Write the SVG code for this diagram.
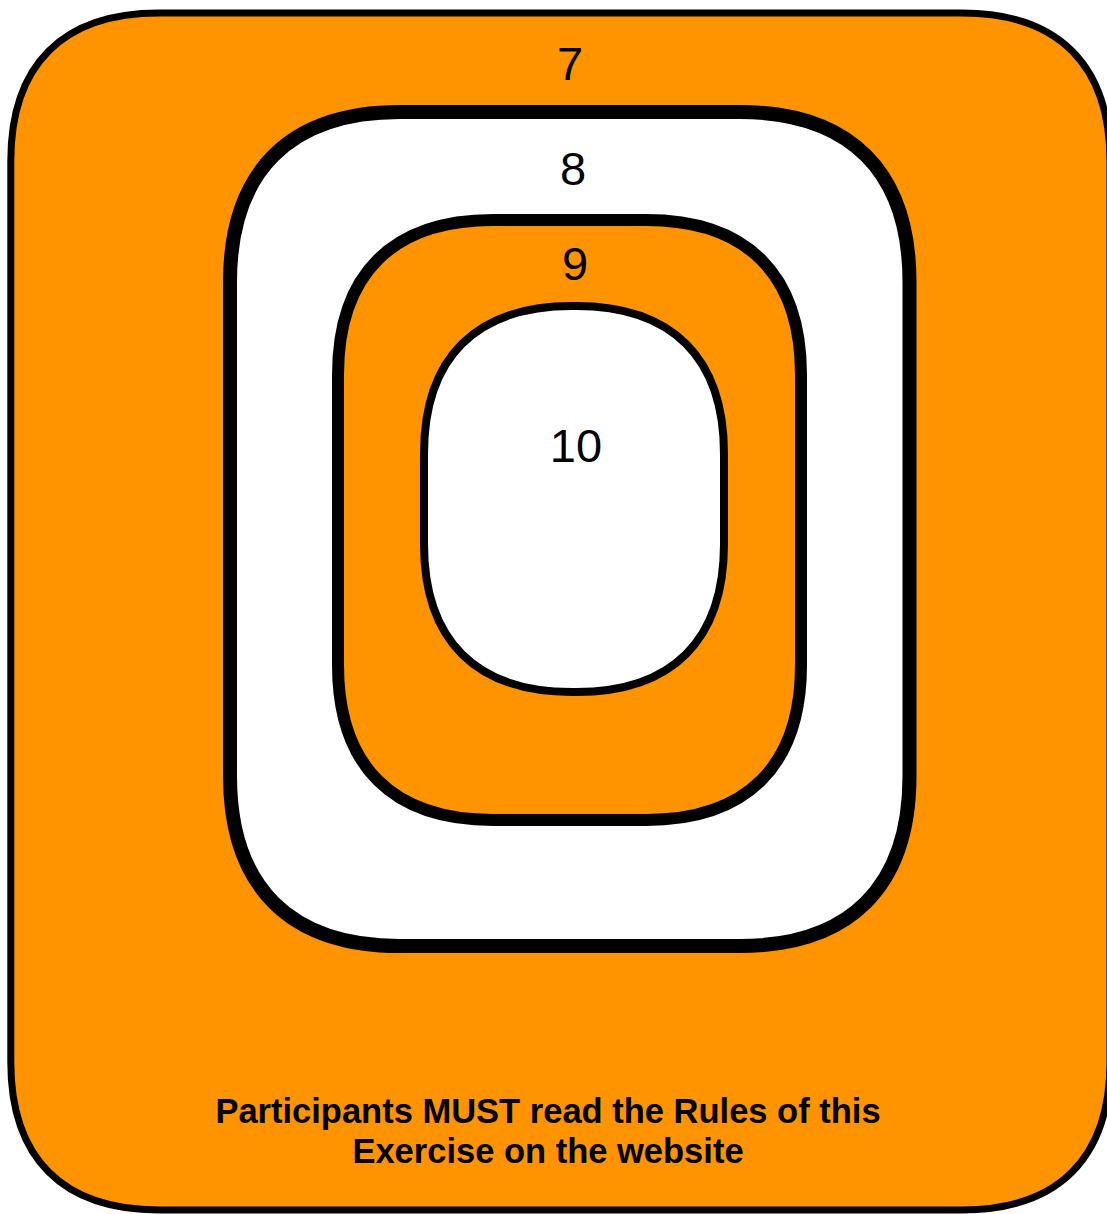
<svg xmlns="http://www.w3.org/2000/svg" width="1107" height="1214" viewBox="0 0 1107 1214">
<style>
.ring{stroke:#000;stroke-linejoin:round}
.org{fill:#FF9300}
.wht{fill:#FFFFFF}
.num{font-family:"Liberation Sans",Arial,sans-serif;font-size:47px;fill:#000;text-anchor:middle}
.note{font-family:"Liberation Sans",Arial,sans-serif;font-size:34.5px;font-weight:bold;fill:#000;text-anchor:middle}
</style>
<rect width="1107" height="1214" fill="#FFFFFF"/>
<g id="ring7">
<path class="ring org" stroke-width="7" d="M158.8,13 H962 C1058.2,13 1110,64.8 1110,161 V1062 C1110,1158.2 1058.2,1210 962,1210 H158.8 C62.6,1210 10.8,1158.2 10.8,1062 V161 C10.8,64.8 62.6,13 158.8,13 Z"/>
<text class="num" x="570" y="80">7</text>
<text class="note" x="548" y="1123">Participants MUST read the Rules of this</text>
<text class="note" x="548" y="1163">Exercise on the website</text>
</g>
<g id="ring8">
<path class="ring wht" stroke-width="14" d="M400,112 H739.5 C850,112 909.5,171.5 909.5,282 V776 C909.5,886.5 850,946 739.5,946 H400 C289.5,946 230,886.5 230,776 V282 C230,171.5 289.5,112 400,112 Z"/>
<text class="num" x="573" y="185">8</text>
</g>
<g id="ring9">
<path class="ring org" stroke-width="12" d="M493,220 H646 C746.75,220 801,274.25 801,375 V665 C801,765.75 746.75,820 646,820 H493 C392.25,820 338,765.75 338,665 V375 C338,274.25 392.25,220 493,220 Z"/>
<text class="num" x="575" y="280">9</text>
</g>
<g id="ring10">
<path class="ring wht" stroke-width="8" d="M572,306 H576 C672.2,306 724,357.8 724,454 V544 C724,640.2 672.2,692 576,692 H572 C475.8,692 424,640.2 424,544 V454 C424,357.8 475.8,306 572,306 Z"/>
<text class="num" x="576" y="462">10</text>
</g>
</svg>
